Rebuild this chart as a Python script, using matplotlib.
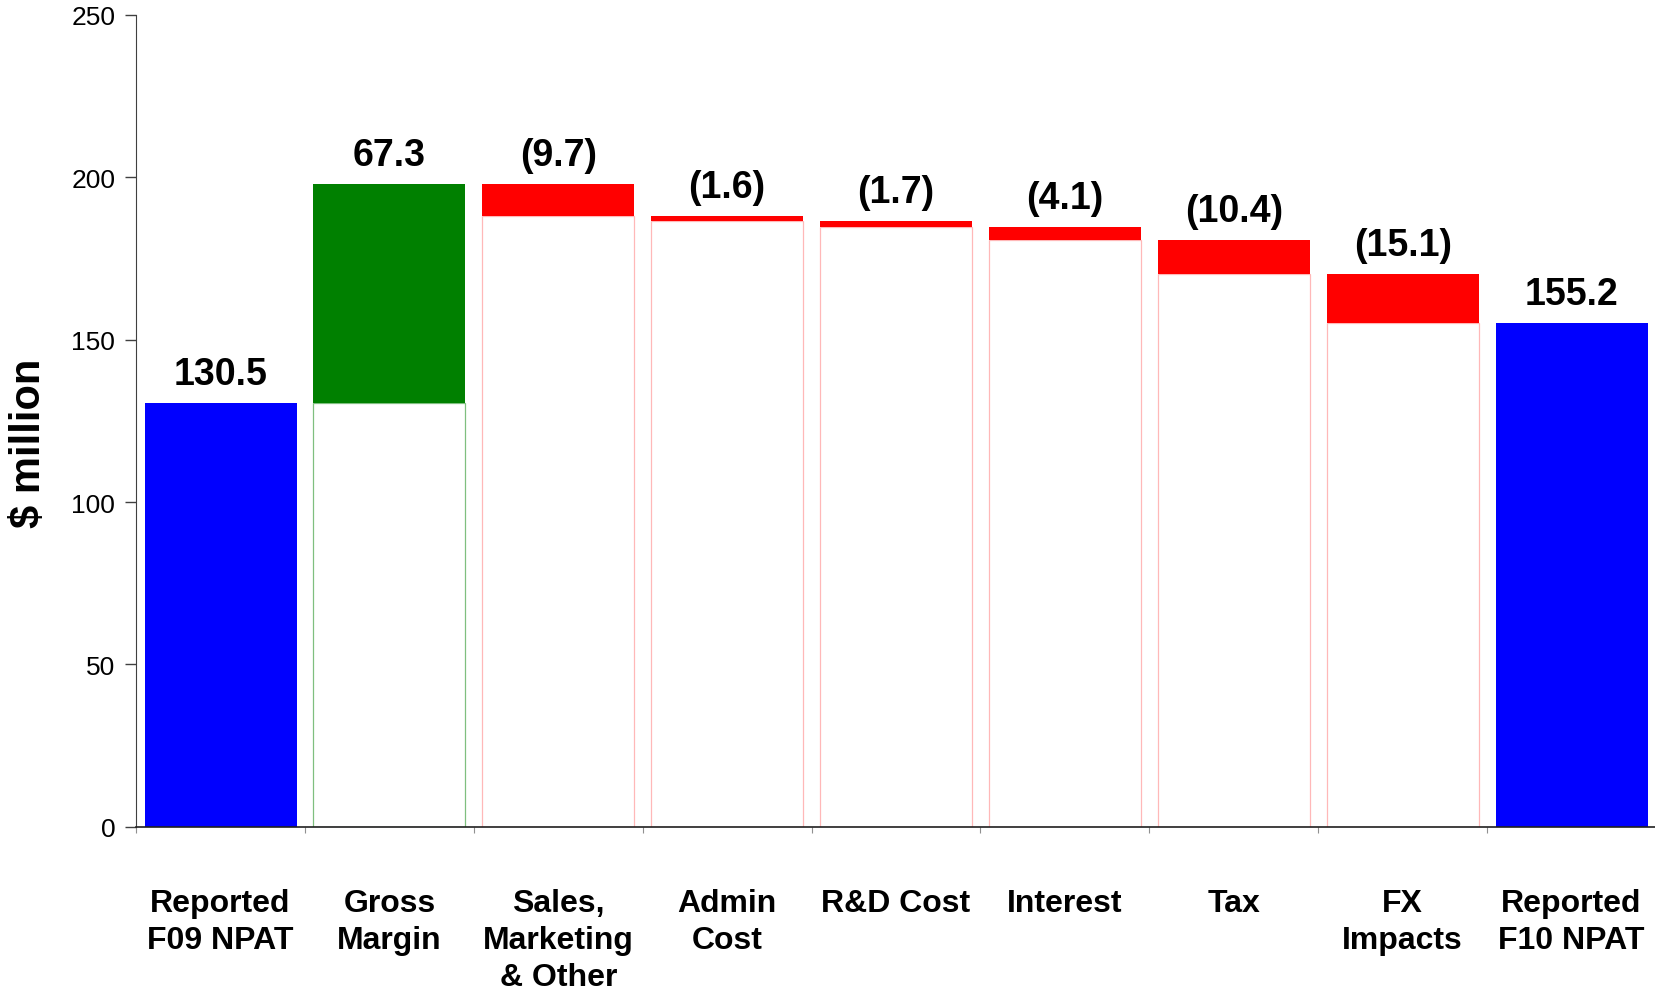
import numpy as np
import matplotlib.pyplot as plt

# ── Daten: Überleitung NPAT F09 -> F10 ($ Mio.) ─────────────
kategorien = ['Reported\nF09 NPAT', 'Gross\nMargin', 'Sales,\nMarketing\n& Other',
              'Admin\nCost', 'R&D Cost', 'Interest', 'Tax', 'FX\nImpacts',
              'Reported\nF10 NPAT']
start_wert = 130.5
veraenderungen = [67.3, -9.7, -1.6, -1.7, -4.1, -10.4, -15.1]
end_wert = 155.2

plt.rcParams['font.family'] = ['Liberation Sans', 'DejaVu Sans']

# ── Wasserfall-Positionen berechnen ─────────────────────────
stand = np.cumsum([start_wert] + veraenderungen)
n = len(kategorien)
x = np.arange(n)

basis = np.zeros(n)
hoehe = np.zeros(n)
farben = []
hoehe[0] = start_wert
farben.append('#0000FF')
for i, d in enumerate(veraenderungen, start=1):
    basis[i] = min(stand[i - 1], stand[i])
    hoehe[i] = abs(d)
    farben.append('#008000' if d > 0 else '#FF0000')
hoehe[-1] = end_wert
farben.append('#0000FF')

fig = plt.figure(figsize=(16.56, 9.95), dpi=100)
ax = fig.add_axes([0.0822, 0.168, 0.9178, 0.816])

breite = 0.9
# unsichtbare Sockelbalken mit blassem Rand
for i in range(1, n - 1):
    rand = (0, 0.5, 0, 0.5) if veraenderungen[i - 1] > 0 else (1, 0, 0, 0.28)
    ax.bar(x[i], basis[i], width=breite, color='white', edgecolor=rand,
           linewidth=0.9, zorder=1)
ax.bar(x, hoehe, bottom=basis, width=breite, color=farben, zorder=2)

# Wertbeschriftungen
texte = [f'{start_wert:.1f}'] + \
        [f'{d:.1f}' if d > 0 else f'({abs(d):.1f})' for d in veraenderungen] + \
        [f'{end_wert:.1f}']
for i in range(n):
    ax.annotate(texte[i], (x[i], basis[i] + hoehe[i]), xytext=(0, 8),
                textcoords='offset points', ha='center', va='bottom',
                fontsize=27, fontweight='bold')

ax.set_xlim(-0.5, n - 0.5)
ax.set_ylim(0, 250)
ax.set_yticks(np.arange(0, 251, 50))
ax.tick_params(axis='y', labelsize=19, length=8, width=1, color='#404040', pad=7)

# Striche zwischen den Kategorien, Beschriftung in der Mitte
ax.set_xticks(np.arange(-0.5, n, 1.0))
ax.set_xticklabels([])
ax.tick_params(axis='x', which='major', length=4, color='#909090')
ax.set_xticks(x, minor=True)
ax.set_xticklabels(kategorien, minor=True, fontsize=23, fontweight='bold',
                   linespacing=1.3, va='top')
ax.tick_params(axis='x', which='minor', length=0, pad=44)

ax.set_ylabel('$ million', fontsize=30, fontweight='bold')
ax.yaxis.set_label_coords(-0.057, 0.473)
for s in ['top', 'right']:
    ax.spines[s].set_visible(False)
ax.spines['left'].set_color('#404040')
ax.spines['bottom'].set_color('#202020')
ax.spines['bottom'].set_linewidth(1.2)

plt.savefig('out.png', dpi=100)
